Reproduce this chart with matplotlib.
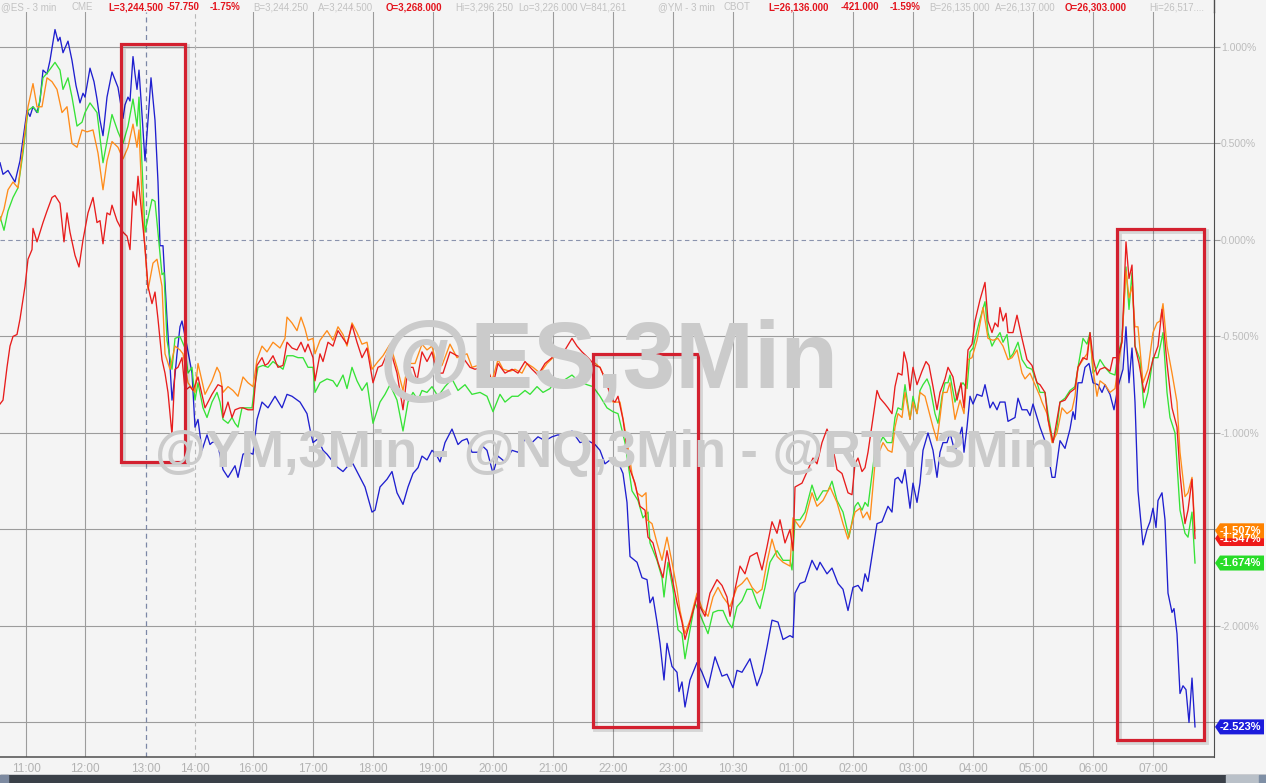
import matplotlib.pyplot as plt
from matplotlib.patches import Rectangle, Polygon
from matplotlib.lines import Line2D

plt.rcParams["font.family"] = ["Liberation Sans", "DejaVu Sans"]

BG = "#f4f4f4"

# time axis: minutes along the (session-compressed) 3-min bar axis
tick_min = [26, 85, 146, 195, 253, 313, 373, 433, 493, 553, 613,
            673, 733, 793, 853, 913, 973, 1033, 1093, 1153]
tick_lbl = ["11:00", "12:00", "13:00", "14:00", "16:00", "17:00", "18:00",
            "19:00", "20:00", "21:00", "22:00", "23:00", "10:30", "01:00",
            "02:00", "03:00", "04:00", "05:00", "06:00", "07:00"]
pct_ticks = [1.0, 0.5, 0.0, -0.5, -1.0, -1.5, -2.0, -2.5]
# tick labels that sit under the last-value flags are not visible in the chart
hidden_ticks = [-1.5, -2.5]

# (minute, % change) per series
blue_pts = [
    (0, 0.40), (3, 0.34), (8, 0.36), (15, 0.30), (20, 0.41), (23, 0.52), (27, 0.67), (30, 0.64),
    (33, 0.69), (37, 0.66), (40, 0.72), (43, 0.88), (47, 0.86), (50, 0.93), (55, 1.09), (58, 1.03),
    (60, 1.05), (63, 0.97), (68, 1.03), (72, 0.93), (76, 0.80), (80, 0.71), (83, 0.76), (85, 0.74),
    (90, 0.89), (94, 0.82), (97, 0.73), (100, 0.62), (103, 0.54), (107, 0.74), (112, 0.87), (118, 0.79),
    (123, 0.63), (125, 0.70), (128, 0.74), (130, 0.72), (133, 0.95), (135, 0.86), (137, 0.78), (139, 0.88),
    (142, 0.65), (145, 0.41), (148, 0.62), (151, 0.84), (155, 0.62), (158, 0.30), (160, -0.03), (163, -0.03),
    (167, -0.41), (170, -0.65), (172, -0.83), (175, -0.70), (177, -0.59), (180, -0.45), (182, -0.42),
    (187, -0.55), (192, -0.69), (195, -0.97), (198, -0.93), (202, -1.09), (207, -1.01), (210, -1.06),
    (212, -1.05), (217, -1.04), (223, -1.19), (228, -1.23), (235, -1.17), (238, -1.23), (243, -1.11),
    (248, -1.10), (253, -1.11), (257, -0.93), (262, -0.84), (268, -0.87), (275, -0.81), (282, -0.87),
    (287, -0.80), (292, -0.81), (300, -0.84), (307, -0.90), (310, -0.98), (313, -1.05), (318, -1.03),
    (323, -1.09), (327, -1.11), (333, -1.15), (338, -1.18), (343, -1.20), (348, -1.17), (353, -1.16),
    (360, -1.23), (365, -1.28), (372, -1.41), (375, -1.40), (380, -1.28), (387, -1.24), (392, -1.20),
    (397, -1.31), (403, -1.37), (408, -1.28), (413, -1.21), (418, -1.18), (422, -1.12), (427, -1.14),
    (432, -1.09), (436, -1.11), (440, -1.15), (445, -1.05), (452, -0.98), (458, -1.06), (462, -1.04),
    (467, -1.03), (472, -1.10), (478, -1.10), (483, -1.07), (487, -1.09), (493, -1.21), (498, -1.12),
    (505, -1.15), (512, -1.09), (518, -1.10), (525, -1.03), (532, -1.05), (538, -1.02), (545, -1.04),
    (552, -1.02), (558, -1.01), (565, -1.02), (572, -0.99), (580, -1.05), (588, -1.04), (595, -1.06),
    (600, -1.09), (605, -1.16), (610, -1.14), (613, -1.16), (618, -1.15), (623, -1.21), (627, -1.36),
    (630, -1.64), (637, -1.67), (642, -1.75), (647, -1.76), (650, -1.88), (653, -1.85), (657, -1.98),
    (660, -2.09), (664, -2.28), (667, -2.09), (672, -2.21), (677, -2.24), (679, -2.34), (682, -2.29),
    (685, -2.42), (690, -2.28), (697, -2.19), (702, -2.24), (708, -2.32), (715, -2.16), (722, -2.26),
    (727, -2.25), (733, -2.32), (737, -2.23), (742, -2.24), (750, -2.17), (757, -2.31), (762, -2.24),
    (767, -2.11), (772, -1.97), (778, -1.98), (783, -2.07), (790, -2.05), (793, -2.06), (795, -1.83),
    (800, -1.78), (805, -1.77), (812, -1.66), (817, -1.71), (820, -1.67), (827, -1.73), (832, -1.70),
    (838, -1.78), (843, -1.81), (848, -1.92), (853, -1.80), (858, -1.79), (862, -1.82), (865, -1.73),
    (868, -1.77), (877, -1.47), (882, -1.46), (885, -1.42), (888, -1.38), (892, -1.41), (895, -1.24),
    (898, -1.23), (902, -1.26), (905, -1.19), (910, -1.39), (913, -1.26), (917, -1.36), (920, -1.26),
    (923, -1.09), (928, -1.00), (933, -1.09), (937, -1.23), (940, -1.10), (943, -1.05), (947, -1.05),
    (950, -1.00), (955, -1.10), (958, -1.04), (962, -0.97), (964, -1.10), (967, -0.97), (970, -0.81),
    (973, -0.85), (977, -0.80), (982, -0.81), (985, -0.75), (990, -0.87), (993, -0.84), (997, -0.88),
    (1000, -0.84), (1005, -0.84), (1008, -0.94), (1015, -0.92), (1018, -0.82), (1022, -0.88),
    (1027, -0.88), (1030, -0.91), (1033, -0.85), (1040, -0.97), (1047, -1.07), (1052, -1.23),
    (1055, -1.23), (1060, -1.04), (1065, -1.08), (1070, -0.98), (1073, -0.89), (1075, -0.93),
    (1078, -0.74), (1082, -0.74), (1085, -0.66), (1089, -0.64), (1093, -0.74), (1098, -0.75),
    (1102, -0.79), (1105, -0.75), (1110, -0.80), (1114, -0.88), (1118, -0.76), (1123, -0.67),
    (1126, -0.45), (1129, -0.74), (1132, -0.56), (1135, -0.84), (1138, -1.30), (1143, -1.58),
    (1147, -1.50), (1150, -1.46), (1153, -1.39), (1156, -1.49), (1158, -1.35), (1162, -1.31),
    (1165, -1.45), (1168, -1.83), (1172, -1.93), (1174, -1.91), (1177, -2.04), (1180, -2.35),
    (1183, -2.31), (1186, -2.33), (1189, -2.50), (1192, -2.27), (1195, -2.523),
]

green_pts = [
    (0, 0.12), (4, 0.05), (8, 0.15), (13, 0.22), (18, 0.27), (23, 0.45), (28, 0.67), (33, 0.69),
    (38, 0.66), (43, 0.84), (48, 0.87), (55, 0.92), (60, 0.88), (63, 0.78), (68, 0.84), (72, 0.74),
    (77, 0.59), (82, 0.61), (85, 0.66), (90, 0.71), (97, 0.66), (103, 0.40), (107, 0.51), (112, 0.65),
    (118, 0.56), (123, 0.50), (128, 0.59), (133, 0.73), (137, 0.59), (139, 0.74), (145, 0.04),
    (152, 0.21), (155, 0.20), (162, -0.18), (164, -0.17), (167, -0.52), (172, -0.67), (175, -0.51),
    (180, -0.50), (185, -0.56), (188, -0.69), (192, -0.66), (195, -0.83), (198, -0.74), (203, -0.87),
    (207, -0.92), (212, -0.84), (217, -0.79), (220, -0.84), (223, -0.93), (228, -0.95), (232, -0.92),
    (235, -0.95), (238, -0.97), (242, -0.87), (247, -0.87), (252, -0.87), (254, -0.78), (258, -0.66),
    (263, -0.65), (268, -0.66), (273, -0.63), (278, -0.65), (283, -0.67), (287, -0.60), (293, -0.60),
    (298, -0.61), (303, -0.61), (308, -0.66), (313, -0.66), (315, -0.79), (320, -0.74), (327, -0.72),
    (333, -0.73), (337, -0.76), (343, -0.70), (347, -0.77), (352, -0.66), (357, -0.73), (362, -0.78),
    (367, -0.74), (373, -0.95), (380, -0.84), (385, -0.80), (390, -0.75), (397, -0.83), (403, -0.99),
    (408, -0.84), (413, -0.79), (418, -0.83), (422, -0.78), (427, -0.79), (432, -0.76), (438, -0.81),
    (445, -0.76), (452, -0.72), (458, -0.78), (465, -0.75), (472, -0.80), (480, -0.79), (487, -0.81),
    (493, -0.89), (500, -0.80), (505, -0.84), (512, -0.81), (518, -0.81), (525, -0.78), (530, -0.80),
    (537, -0.76), (543, -0.79), (550, -0.77), (557, -0.72), (563, -0.73), (572, -0.70), (578, -0.73),
    (587, -0.75), (593, -0.76), (600, -0.81), (607, -0.87), (613, -0.89), (618, -0.90), (625, -1.05),
    (632, -1.30), (638, -1.35), (643, -1.44), (648, -1.41), (650, -1.57), (657, -1.66), (662, -1.75),
    (664, -1.85), (668, -1.67), (673, -1.81), (678, -2.02), (682, -2.04), (685, -2.17), (690, -2.02),
    (695, -1.88), (700, -1.94), (708, -2.04), (713, -1.93), (718, -1.92), (723, -1.92), (728, -1.98),
    (732, -2.01), (737, -1.90), (742, -1.87), (747, -1.81), (752, -1.81), (757, -1.88), (760, -1.91),
    (765, -1.80), (770, -1.67), (777, -1.61), (783, -1.66), (790, -1.66), (792, -1.71), (795, -1.45),
    (800, -1.45), (805, -1.41), (812, -1.27), (817, -1.35), (823, -1.30), (828, -1.30), (832, -1.25),
    (837, -1.35), (843, -1.41), (849, -1.54), (855, -1.38), (858, -1.36), (862, -1.40), (865, -1.36),
    (868, -1.38), (877, -1.01), (880, -1.05), (883, -1.02), (887, -1.05), (892, -1.05), (895, -0.92),
    (898, -0.87), (902, -0.88), (905, -0.75), (910, -0.93), (913, -0.81), (917, -0.90), (920, -0.78),
    (923, -0.75), (927, -0.72), (930, -0.76), (935, -0.90), (938, -0.95), (942, -0.81), (945, -0.74),
    (948, -0.74), (950, -0.70), (955, -0.84), (960, -0.76), (963, -0.74), (967, -0.77), (970, -0.58),
    (973, -0.56), (977, -0.47), (980, -0.41), (985, -0.32), (988, -0.48), (992, -0.55), (995, -0.52),
    (1000, -0.48), (1003, -0.53), (1007, -0.49), (1010, -0.61), (1013, -0.59), (1018, -0.53),
    (1022, -0.62), (1027, -0.66), (1032, -0.67), (1037, -0.74), (1040, -0.79), (1045, -0.79),
    (1048, -0.90), (1053, -1.05), (1057, -0.97), (1060, -0.84), (1065, -0.82), (1070, -0.78),
    (1075, -0.76), (1078, -0.66), (1083, -0.51), (1087, -0.54), (1090, -0.48), (1093, -0.69),
    (1097, -0.66), (1100, -0.62), (1105, -0.66), (1110, -0.69), (1115, -0.70), (1118, -0.59),
    (1122, -0.52), (1126, -0.14), (1129, -0.36), (1132, -0.17), (1135, -0.55), (1140, -0.62),
    (1144, -0.87), (1148, -0.79), (1153, -0.61), (1158, -0.61), (1163, -0.48), (1167, -0.79),
    (1170, -0.92), (1175, -1.00), (1180, -1.40), (1185, -1.52), (1188, -1.54), (1192, -1.41),
    (1195, -1.674),
]

orange_pts = [
    (0, 0.10), (4, 0.16), (8, 0.26), (13, 0.30), (18, 0.27), (23, 0.48), (28, 0.69), (33, 0.81),
    (37, 0.69), (42, 0.69), (47, 0.84), (52, 0.82), (57, 0.78), (62, 0.66), (67, 0.69), (72, 0.50),
    (77, 0.48), (82, 0.57), (87, 0.56), (93, 0.57), (98, 0.45), (103, 0.26), (107, 0.41), (112, 0.51),
    (118, 0.48), (123, 0.42), (128, 0.48), (133, 0.60), (137, 0.48), (139, 0.57), (143, 0.10),
    (148, -0.26), (153, -0.12), (157, -0.10), (162, -0.24), (165, -0.59), (170, -0.67), (175, -0.55),
    (180, -0.57), (183, -0.59), (188, -0.74), (195, -0.79), (198, -0.64), (205, -0.80), (212, -0.73),
    (217, -0.66), (220, -0.69), (223, -0.79), (228, -0.76), (233, -0.78), (238, -0.81), (243, -0.71),
    (248, -0.74), (253, -0.76), (257, -0.62), (262, -0.55), (267, -0.58), (273, -0.53), (280, -0.56),
    (285, -0.51), (287, -0.40), (292, -0.43), (297, -0.47), (301, -0.40), (305, -0.46), (308, -0.52),
    (313, -0.51), (315, -0.59), (320, -0.52), (327, -0.47), (333, -0.52), (338, -0.45), (343, -0.49),
    (347, -0.55), (352, -0.43), (357, -0.48), (362, -0.54), (367, -0.53), (372, -0.67), (378, -0.63),
    (383, -0.60), (390, -0.54), (397, -0.66), (403, -0.78), (408, -0.64), (415, -0.64), (422, -0.54),
    (427, -0.57), (432, -0.55), (437, -0.66), (442, -0.65), (450, -0.54), (457, -0.61), (462, -0.60),
    (467, -0.59), (472, -0.66), (478, -0.65), (485, -0.64), (492, -0.73), (498, -0.62), (503, -0.67),
    (510, -0.68), (515, -0.67), (522, -0.69), (527, -0.64), (533, -0.66), (540, -0.69), (547, -0.64),
    (553, -0.61), (558, -0.59), (565, -0.58), (570, -0.61), (575, -0.59), (582, -0.61), (587, -0.64),
    (593, -0.63), (600, -0.66), (607, -0.74), (613, -0.84), (620, -0.84), (627, -1.04), (632, -1.21),
    (637, -1.31), (642, -1.33), (646, -1.31), (647, -1.45), (652, -1.47), (657, -1.57), (662, -1.66),
    (667, -1.54), (672, -1.67), (677, -1.81), (680, -1.92), (685, -2.04), (690, -1.97), (697, -1.83),
    (702, -1.91), (708, -1.95), (713, -1.85), (718, -1.80), (723, -1.85), (730, -1.90), (737, -1.80),
    (742, -1.78), (747, -1.75), (752, -1.80), (757, -1.83), (762, -1.81), (767, -1.67), (772, -1.55),
    (777, -1.64), (783, -1.67), (790, -1.69), (793, -1.44), (800, -1.49), (805, -1.45), (812, -1.31),
    (817, -1.38), (823, -1.35), (830, -1.28), (837, -1.36), (843, -1.47), (848, -1.55), (855, -1.41),
    (860, -1.39), (863, -1.44), (867, -1.41), (870, -1.45), (877, -1.04), (880, -1.09), (883, -1.05),
    (888, -1.09), (892, -1.10), (895, -0.97), (898, -0.90), (902, -0.92), (905, -0.79), (910, -0.93),
    (913, -0.84), (917, -0.90), (920, -0.79), (925, -0.81), (928, -0.87), (933, -0.97), (937, -1.04),
    (940, -0.92), (943, -0.79), (947, -0.79), (950, -0.74), (955, -0.93), (960, -0.83), (964, -0.90),
    (968, -0.62), (972, -0.61), (977, -0.52), (983, -0.35), (988, -0.51), (993, -0.52), (998, -0.51),
    (1003, -0.55), (1008, -0.62), (1012, -0.61), (1017, -0.57), (1022, -0.69), (1025, -0.72),
    (1030, -0.69), (1035, -0.75), (1040, -0.81), (1042, -0.84), (1047, -0.90), (1052, -1.05),
    (1057, -1.00), (1062, -0.87), (1067, -0.90), (1072, -0.88), (1075, -0.81), (1078, -0.66),
    (1083, -0.62), (1087, -0.59), (1090, -0.49), (1093, -0.67), (1097, -0.81), (1100, -0.73),
    (1105, -0.75), (1110, -0.79), (1115, -0.77), (1118, -0.66), (1122, -0.52), (1126, -0.16),
    (1129, -0.30), (1132, -0.24), (1135, -0.45), (1138, -0.45), (1143, -0.74), (1148, -0.67),
    (1153, -0.48), (1157, -0.43), (1160, -0.42), (1163, -0.33), (1167, -0.55), (1172, -0.69),
    (1177, -0.84), (1180, -1.10), (1185, -1.33), (1188, -1.31), (1192, -1.23), (1195, -1.507),
]

red_pts = [
    (0, -0.85), (3, -0.83), (7, -0.66), (10, -0.55), (13, -0.50), (17, -0.49), (20, -0.41), (25, -0.24),
    (28, -0.10), (32, -0.05), (33, 0.06), (37, -0.01), (40, 0.04), (43, 0.09), (47, 0.15), (52, 0.22),
    (55, 0.23), (60, 0.19), (64, -0.01), (67, 0.14), (70, 0.04), (75, -0.08), (79, -0.14), (83, 0.00),
    (88, 0.14), (93, 0.22), (97, 0.09), (100, 0.10), (103, -0.02), (107, 0.14), (110, 0.13), (112, 0.18),
    (117, 0.10), (120, 0.07), (123, 0.04), (127, 0.02), (130, -0.05), (133, 0.25), (136, 0.18),
    (138, 0.33), (142, 0.12), (145, -0.04), (148, -0.24), (152, -0.33), (155, -0.27), (158, -0.41),
    (162, -0.62), (165, -0.69), (168, -0.79), (172, -1.01), (175, -0.67), (178, -0.66), (182, -0.61),
    (185, -0.78), (190, -0.76), (193, -0.78), (198, -0.71), (205, -0.87), (212, -0.80), (218, -0.75),
    (222, -0.76), (223, -0.92), (228, -0.84), (232, -0.92), (235, -0.88), (240, -0.87), (243, -0.87),
    (248, -0.88), (253, -0.88), (257, -0.65), (262, -0.61), (265, -0.65), (268, -0.64), (273, -0.60),
    (278, -0.66), (283, -0.65), (287, -0.53), (292, -0.56), (297, -0.57), (301, -0.53), (305, -0.58),
    (308, -0.54), (313, -0.61), (315, -0.73), (320, -0.59), (323, -0.63), (328, -0.53), (333, -0.55),
    (338, -0.47), (343, -0.51), (347, -0.54), (352, -0.44), (357, -0.53), (362, -0.61), (367, -0.56),
    (373, -0.74), (378, -0.66), (382, -0.65), (387, -0.59), (392, -0.60), (397, -0.69), (403, -0.88),
    (408, -0.66), (413, -0.66), (417, -0.73), (422, -0.58), (427, -0.63), (432, -0.58), (437, -0.69),
    (443, -0.69), (450, -0.58), (457, -0.60), (463, -0.61), (470, -0.66), (475, -0.67), (482, -0.66),
    (488, -0.67), (493, -0.75), (498, -0.64), (505, -0.69), (512, -0.67), (518, -0.69), (525, -0.63),
    (532, -0.67), (538, -0.70), (545, -0.64), (552, -0.61), (558, -0.57), (565, -0.57), (572, -0.51),
    (577, -0.55), (582, -0.58), (588, -0.61), (595, -0.65), (600, -0.66), (605, -0.72), (612, -0.83),
    (615, -0.84), (618, -0.81), (623, -0.93), (630, -1.19), (635, -1.26), (640, -1.38), (645, -1.40),
    (648, -1.54), (653, -1.57), (658, -1.67), (663, -1.75), (667, -1.61), (672, -1.75), (677, -1.88),
    (682, -1.98), (685, -2.07), (690, -1.98), (697, -1.85), (700, -1.90), (705, -1.95), (710, -1.83),
    (717, -1.76), (722, -1.79), (727, -1.85), (730, -1.95), (735, -1.81), (740, -1.69), (745, -1.73),
    (750, -1.64), (757, -1.62), (762, -1.71), (767, -1.59), (772, -1.46), (777, -1.52), (780, -1.45),
    (785, -1.57), (790, -1.50), (793, -1.61), (795, -1.28), (802, -1.26), (808, -1.19), (813, -1.13),
    (817, -1.16), (822, -1.05), (827, -0.98), (832, -1.05), (837, -1.19), (842, -1.21), (848, -1.31),
    (852, -1.32), (855, -1.16), (858, -1.13), (862, -1.20), (865, -1.18), (868, -1.10), (877, -0.78),
    (880, -0.82), (885, -0.85), (888, -0.87), (892, -0.90), (895, -0.76), (898, -0.69), (902, -0.70),
    (904, -0.58), (907, -0.64), (910, -0.78), (913, -0.66), (917, -0.75), (922, -0.68), (926, -0.63),
    (929, -0.65), (933, -0.76), (937, -0.88), (940, -0.79), (945, -0.72), (948, -0.66), (953, -0.71),
    (957, -0.83), (961, -0.74), (964, -0.87), (968, -0.57), (972, -0.54), (975, -0.42), (980, -0.31),
    (985, -0.22), (988, -0.42), (992, -0.48), (995, -0.43), (998, -0.45), (1000, -0.35), (1003, -0.42),
    (1006, -0.38), (1008, -0.48), (1013, -0.48), (1017, -0.39), (1022, -0.51), (1027, -0.62),
    (1032, -0.65), (1037, -0.74), (1040, -0.75), (1045, -0.79), (1048, -0.93), (1053, -1.05),
    (1057, -0.93), (1060, -0.84), (1065, -0.83), (1070, -0.79), (1075, -0.77), (1078, -0.66),
    (1083, -0.61), (1087, -0.62), (1090, -0.48), (1093, -0.61), (1097, -0.70), (1100, -0.67),
    (1105, -0.66), (1110, -0.68), (1113, -0.61), (1118, -0.61), (1122, -0.53), (1126, -0.01),
    (1129, -0.20), (1132, -0.13), (1135, -0.55), (1139, -0.64), (1144, -0.79), (1148, -0.72),
    (1153, -0.62), (1158, -0.55), (1162, -0.36), (1167, -0.64), (1172, -0.87), (1177, -0.97),
    (1180, -1.21), (1185, -1.47), (1188, -1.40), (1192, -1.24), (1195, -1.547),
]

series = [
    ("blue", blue_pts, "#1f1fcf"),
    ("green", green_pts, "#36e236"),
    ("orange", orange_pts, "#ff8c1a"),
    ("red", red_pts, "#e81c1c"),
]
# last-value flags on the right axis: (value, colour), drawn in this order
last_flags = [(-2.523, "#1c1cdc"), (-1.674, "#27dc27"), (-1.547, "#ee1a1a"), (-1.507, "#ff8200")]

# highlight boxes: (start minute, end minute, top %, bottom %)
boxes = [(121, 185, 1.016, -1.150), (593, 698, -0.591, -2.523), (1117, 1204, 0.057, -2.591)]

W, H = 1266, 783
fig = plt.figure(figsize=(W / 100, H / 100), dpi=100, facecolor=BG)
ax = fig.add_axes([0, 26 / H, 1214 / W, 745 / H], facecolor=BG)
ax.set_xlim(0, 1214)
ax.set_ylim(-2.679, 1.181)

# grid
for v in pct_ticks:
    if v == 0:
        ax.axhline(v, color="#8a93ad", lw=0.8, ls=(0, (4, 3)), zorder=1)
    else:
        ax.axhline(v, color="#9c9c9c", lw=0.8, zorder=1)
for m, lbl in zip(tick_min, tick_lbl):
    if lbl == "14:00":
        ax.axvline(m, color="#b8b8b8", lw=0.8, ls=(0, (4, 3)), zorder=1)
    elif lbl == "13:00":
        ax.axvline(m, color="#7c87a6", lw=0.9, ls=(0, (4, 3)), zorder=1)
    else:
        ax.axvline(m, color="#9c9c9c", lw=0.8, zorder=1)

# watermark
wm = dict(color="#cbcbcb", fontweight="bold", ha="center", va="baseline", zorder=0)
fig.text(609 / W, 1 - 388 / H, "@ES,3Min", fontsize=68, **wm)
fig.text(605 / W, 1 - 467 / H, "@YM,3Min - @NQ,3Min - @RTY,3Min", fontsize=37.5, **wm)

for name, pts, col in series:
    xs = [p[0] for p in pts]
    ys = [p[1] for p in pts]
    ax.plot(xs, ys, color=col, lw=0.95, zorder=3)

# red highlight boxes with a soft shadow
for x0, x1, top, bot in boxes:
    ax.add_patch(Rectangle((x0 + 2, bot - 0.012), x1 - x0, top - bot, fill=False,
                           edgecolor="#000000", lw=3.5, alpha=0.12, zorder=5, clip_on=False))
    ax.add_patch(Rectangle((x0, bot), x1 - x0, top - bot, fill=False,
                           edgecolor="#d3202f", lw=2.3, zorder=6, clip_on=False))

# axes styling
for s in ["top", "left"]:
    ax.spines[s].set_visible(False)
ax.spines["right"].set_color("#4d4d4d")
ax.spines["bottom"].set_color("#4d4d4d")
ax.spines["bottom"].set_linewidth(1.1)
ax.yaxis.tick_right()
ax.set_yticks(pct_ticks)
ax.set_yticklabels(["" if v in hidden_ticks else f"{v:.3f}%" for v in pct_ticks])
ax.tick_params(axis="y", length=4, width=0.8, color="#9c9c9c", labelcolor="#bcbcbc",
               labelsize=7.5, pad=1)
ax.set_xticks(tick_min)
ax.set_xticklabels(tick_lbl)
ax.tick_params(axis="x", length=0, labelcolor="#b2b2b2", labelsize=8.5, pad=4)

# last-value flags
tr = ax.get_yaxis_transform()
px = 1 / 1214
hh = 7.5 / 193
for v, col in last_flags:
    poly = Polygon([(1 + px, v), (1 + 6 * px, v + hh), (1 + 50 * px, v + hh),
                    (1 + 50 * px, v - hh), (1 + 6 * px, v - hh)], closed=True,
                   facecolor=col, edgecolor="none", transform=tr, clip_on=False, zorder=8)
    ax.add_patch(poly)
    ax.text(1 + 26 * px, v, f"{v:.3f}%", transform=tr, ha="center", va="center",
            color="white", fontsize=8, fontweight="bold", zorder=9, clip_on=False)

# header line
gray, red = "#c2c2c2", "#e3141d"
header = [
    (1, "@ES - 3 min", gray), (71, "CME", gray), (108, "L=3,244.500", red), (167, "-57.750", red),
    (210, "-1.75%", red), (253, "B=3,244.250", gray), (318, "A=3,244.500", gray),
    (386, "O=3,268.000", red), (455, "Hi=3,296.250", gray), (518, "Lo=3,226.000", gray),
    (580, "V=841,261", gray), (658, "@YM - 3 min", gray), (723, "CBOT", gray),
    (768, "L=26,136.000", red), (841, "-421.000", red), (890, "-1.59%", red),
    (929, "B=26,135.000", gray), (995, "A=26,137.000", gray), (1065, "O=26,303.000", red),
    (1149, "Hi=26,517....", gray),
]
for x, t, c in header:
    fig.text(x / W, 1 - 7.5 / H, t, color=c, fontsize=7.0, ha="left", va="center",
             fontweight="bold" if c == red else "normal")
fig.add_artist(Line2D([1214 / W, 1214 / W], [1 - 12 / H, 1], color="#4d4d4d", lw=1,
                      transform=fig.transFigure))

# bottom status bar
fig.add_artist(Rectangle((0, 0), 1, 8 / H, transform=fig.transFigure, color="#3a4048"))
fig.add_artist(Rectangle((0, 0), 8 / W, 8 / H, transform=fig.transFigure, color="#7d8aa0"))
fig.add_artist(Rectangle((1226 / W, 0), 33 / W, 8 / H, transform=fig.transFigure, color="#b9c0c8"))
fig.add_artist(Rectangle((1259 / W, 0), 7 / W, 8 / H, transform=fig.transFigure, color="#7f8fa5"))

fig.savefig("out.png", dpi=100, facecolor=BG)
